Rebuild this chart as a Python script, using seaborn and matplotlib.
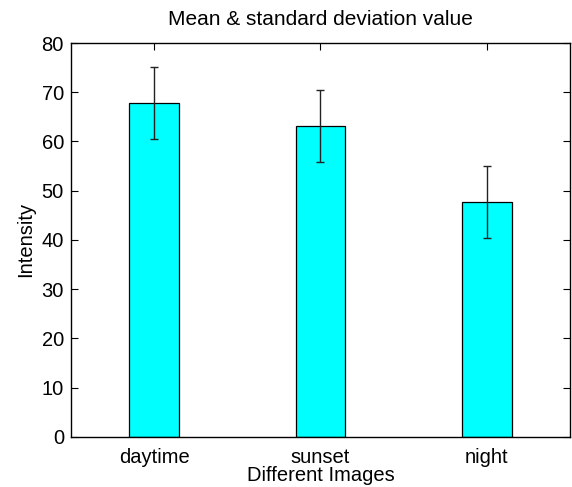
import matplotlib
matplotlib.use("Agg")
import matplotlib.pyplot as plt
import seaborn as sns
import pandas as pd

# values
images = ["daytime", "sunset", "night"]
means = [67.8, 63.2, 47.7]
stds = [7.35, 7.35, 7.3]

sns.set_style("ticks")
plt.rcParams["font.family"] = ["Liberation Sans", "DejaVu Sans"]
plt.rcParams["text.color"] = "black"
plt.rcParams["axes.labelcolor"] = "black"

df = pd.DataFrame({"image": images, "intensity": means})

fig = plt.figure(figsize=(5.72, 4.87), dpi=100)
ax = fig.add_axes([0.124, 0.103, 0.8725, 0.8087])

sns.barplot(data=df, x="image", y="intensity", color="#00ffff", saturation=1,
            width=0.3, edgecolor="black", linewidth=0.9, ax=ax)
ax.errorbar(range(len(images)), means, yerr=stds, fmt="none", ecolor="#222222",
            elinewidth=1, capsize=3, capthick=1)

ax.set_xlim(-0.5, 2.5)
ax.set_ylim(0, 80)
ax.set_yticks(range(0, 81, 10))
for s in ax.spines.values():
    s.set_visible(True)
    s.set_linewidth(1)
    s.set_color("black")
ax.tick_params(direction="in", length=5, width=0.8, top=True, right=True,
               labelsize=14.5, colors="black")
ax.tick_params(axis="x", pad=8)
ax.tick_params(axis="y", pad=5)
ax.set_title("Mean & standard deviation value", fontsize=15, pad=13)
ax.set_xlabel("Different Images", fontsize=14.5, labelpad=-1)
ax.set_ylabel("Intensity", fontsize=14.5, labelpad=5)

plt.savefig("out.png", dpi=100)
